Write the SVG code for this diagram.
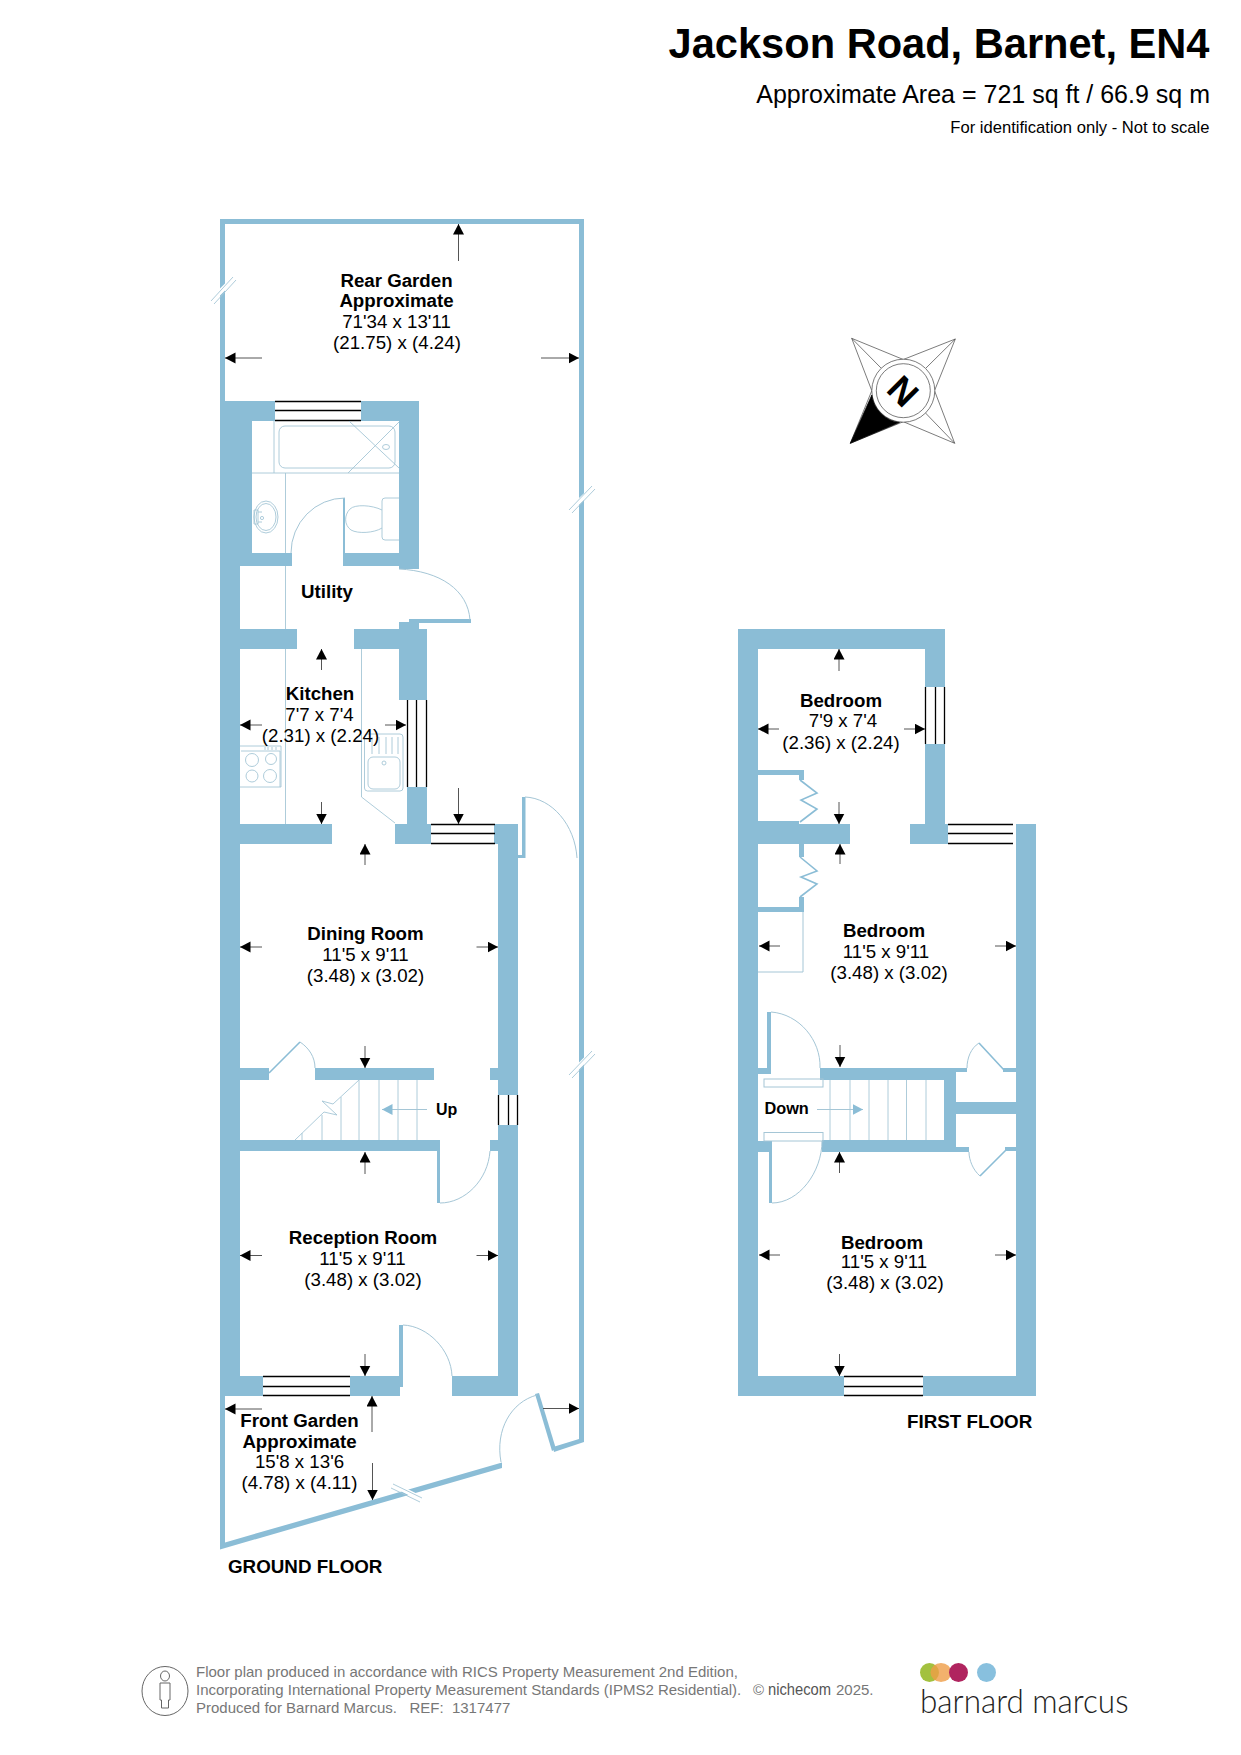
<svg xmlns="http://www.w3.org/2000/svg" width="1241" height="1755" viewBox="0 0 1241 1755">
<style>
text{font-family:"Liberation Sans",Arial,sans-serif;fill:#000}
.b{font-weight:bold;font-size:18.7px;text-anchor:middle}
.r{font-size:18.7px;text-anchor:middle}
.wall{fill:#8bbdd6}
.thin{fill:none;stroke:#a5c6d6;stroke-width:1}
.leaf{fill:none;stroke:#8bbdd6;stroke-width:1.6}
.win{stroke:#000;stroke-width:1.3;fill:none}
.dim{stroke:#555;stroke-width:1;marker-end:url(#ah)}
.fig{fill:none;stroke:#a5c6d6;stroke-width:.9}
.foot{font-size:15px;fill:#777;white-space:pre}
.brk{stroke:#fff;stroke-width:5}
.brk2{stroke:#a5c6d6;stroke-width:.9;fill:none}
</style>
<defs>
<marker id="ah" markerUnits="userSpaceOnUse" markerWidth="11" markerHeight="12" refX="10.5" refY="5.5" orient="auto"><path d="M0,0L10.5,5.5L0,11Z" fill="#000"/></marker>
<marker id="bh" markerUnits="userSpaceOnUse" markerWidth="11" markerHeight="12" refX="10.5" refY="5.5" orient="auto"><path d="M0,0L10.5,5.5L0,11Z" fill="#8bbdd6"/></marker>
</defs>
<rect width="1241" height="1755" fill="#fff"/>

<g id="header">
<text x="1209.5" y="58" font-size="41.6" font-weight="bold" text-anchor="end">Jackson Road, Barnet, EN4</text>
<text x="1210" y="103" font-size="25" text-anchor="end">Approximate Area = 721 sq ft / 66.9 sq m</text>
<text x="1209.5" y="133" font-size="16.6" text-anchor="end">For identification only - Not to scale</text>
</g>

<g id="ground-floor">
<path class="wall" d="M220,219H584V1442L554,1452L553,1447L579,1439V224H225V401H220Z"/>
<path class="wall" d="M220,401H275V421H252V553H292V566H240V1376H263V1396H225V1542.5L502,1462.5V1468L220,1549.5Z"/>
<path class="wall" d="M361,401H419V569H399V421H361Z"/>
<path class="wall" d="M343,498H345V553H399V566H343Z"/>
<path class="wall" d="M399,622H419V629H427V700H399V649H354V629H399Z"/>
<path class="wall" d="M240,629H297V649H240Z"/>
<path class="wall" d="M409,619H471V623H409Z"/>
<path class="wall" d="M407,787H427V824H431V844H395V824H407Z"/>
<path class="wall" d="M240,824H332V844H240Z"/>
<path class="wall" d="M494,824H518V855H522V797H525.5V858H518V1095H498V844H494Z"/>
<path class="wall" d="M498,1125H518V1396H452V1376H498V1151H490V1140H498Z"/>
<path class="wall" d="M490,1068H498V1080H490Z"/>
<path class="wall" d="M240,1068H269V1080H240Z"/>
<path class="wall" d="M315,1068H434V1080H315Z"/>
<path class="wall" d="M240,1140H440V1203H437V1151H240Z"/>
<path class="wall" d="M350,1376H399V1325H403V1387H400V1396H350Z"/>
<path class="wall" d="M535,1394L539,1393L556,1449L552,1451Z"/>
<path class="leaf" d="M269,1073L300,1042"/>
<path class="thin" d="M345,498A54,55 0 0 0 291,553M399,569C440,571 468,590 470,620M525,797C552,798 575,825 577,858M300,1042C309,1048 315,1057 315,1068M490,1151C488,1180 465,1203 440,1203M403,1325C428,1326 451,1350 452,1376M537,1395C511,1402 495,1430 501,1462"/>
<path class="win" d="M275,401.5H361M275,410.5H361M275,420.5H361M407.5,700V787M416.5,700V787M426.5,700V787M431,824.5H495M431,833.5H495M431,843.5H495M498.5,1095V1125M508.5,1095V1125M517.5,1095V1125M263,1376.5H350M263,1386.5H350M263,1395.5H350"/>
<g id="bathroom-fittings">
<path class="fig" d="M274,421V473M252,473H399M285.5,473V553M285.5,566V629M285.5,649V824"/>
<rect class="fig" x="279" y="426" width="116" height="42" rx="6"/>
<path class="fig" d="M349,421L399,468M399,422L348,473"/>
<ellipse class="fig" cx="386" cy="447" rx="3.5" ry="2.5"/>
<ellipse class="fig" cx="266" cy="517" rx="12" ry="16"/>
<ellipse class="fig" cx="266" cy="517" rx="10" ry="13.5"/>
<path class="fig" d="M254,510H258V524H254ZM258,512H262M258,522H262"/>
<circle class="fig" cx="262" cy="518" r="1.6"/>
<path class="fig" d="M382,510C372,505 355,504 350,509C344,515 344,525 351,530C358,534 374,533 382,528"/>
<path class="fig" d="M399,498H385Q382,498 382,501V537Q382,540 385,540H399"/>
</g>
<g id="kitchen-fittings">
<path class="fig" d="M361.5,649V797L395,823"/>
<rect class="fig" x="364.5" y="734" width="38.5" height="57" rx="3"/>
<rect class="fig" x="368" y="757" width="32" height="32" rx="5"/>
<path class="fig" d="M372,737V754M379,737V754M386,737V754M392,737V754M398,737V754"/>
<circle class="fig" cx="384" cy="763" r="2"/>
<path class="fig" d="M240,746H281V787H240M241,751H280V787"/>
<circle class="fig" cx="252" cy="760" r="6.5"/><circle class="fig" cx="271" cy="759" r="5.5"/><circle class="fig" cx="252" cy="776" r="6"/><circle class="fig" cx="270" cy="776" r="6.5"/>
<path class="fig" d="M265,747V750M268,747V750M272,747V750M276,747V750"/>
</g>
<g id="stairs-up">
<path class="fig" d="M295,1140L324,1112L337,1115L322,1101L333,1104L359,1080M302,1133V1140M322,1115V1140M341,1097V1140M359,1080V1140M379,1080V1140M398,1080V1140M417,1080V1140"/>
<line x1="427" y1="1109.5" x2="382" y2="1109.5" stroke="#a5c6d6" stroke-width="1" marker-end="url(#bh)"/>
</g>
<g id="garden-breaks">
<path class="brk" d="M213,299L231,281M571,509L591,490M571,1074L591,1054M396,1486L420,1498"/>
<path class="brk2" d="M211,301L233,277M214,304L236,280M569,510L592,486M572,513L595,489M569,1075L592,1051M572,1078L595,1054M393,1484L422,1498M391,1488L420,1502"/>
</g>
</g>

<g id="ground-dimensions">
<line class="dim" x1="458.5" y1="261" x2="458.5" y2="224"/>
<line class="dim" x1="262" y1="358" x2="225" y2="358"/>
<line class="dim" x1="541" y1="358" x2="579" y2="358"/>
<line class="dim" x1="321.5" y1="670" x2="321.5" y2="649"/>
<line class="dim" x1="262" y1="725" x2="240" y2="725"/>
<line class="dim" x1="385" y1="725" x2="406" y2="725"/>
<line class="dim" x1="321.5" y1="802" x2="321.5" y2="824"/>
<line class="dim" x1="458.5" y1="788" x2="458.5" y2="824"/>
<line class="dim" x1="365" y1="865" x2="365" y2="844"/>
<line class="dim" x1="262" y1="947" x2="240" y2="947"/>
<line class="dim" x1="476.5" y1="947" x2="498" y2="947"/>
<line class="dim" x1="365" y1="1046" x2="365" y2="1068"/>
<line class="dim" x1="365" y1="1174" x2="365" y2="1152"/>
<line class="dim" x1="262" y1="1255.5" x2="240" y2="1255.5"/>
<line class="dim" x1="476.5" y1="1255.5" x2="498" y2="1255.5"/>
<line class="dim" x1="365" y1="1354" x2="365" y2="1376"/>
<line class="dim" x1="262" y1="1409" x2="225" y2="1409"/>
<line class="dim" x1="543" y1="1408.5" x2="579" y2="1408.5"/>
<line class="dim" x1="372" y1="1432" x2="372" y2="1396"/>
<line class="dim" x1="372.5" y1="1463" x2="372.5" y2="1500"/>
</g>

<g id="ground-labels">
<text class="b" x="396.5" y="287">Rear Garden</text>
<text class="b" x="396.5" y="307">Approximate</text>
<text class="r" x="396.5" y="328">71'34 x 13'11</text>
<text class="r" x="397" y="349">(21.75) x (4.24)</text>
<text class="b" x="327" y="598">Utility</text>
<text class="b" x="320" y="699.5">Kitchen</text>
<text class="r" x="319.5" y="720.5">7'7 x 7'4</text>
<text class="r" x="320.5" y="742">(2.31) x (2.24)</text>
<text class="b" x="365.5" y="940">Dining Room</text>
<text class="r" x="365.5" y="961">11'5 x 9'11</text>
<text class="r" x="365.5" y="982">(3.48) x (3.02)</text>
<text x="436" y="1114.5" font-size="16" font-weight="bold">Up</text>
<text class="b" x="363" y="1244">Reception Room</text>
<text class="r" x="362.5" y="1265">11'5 x 9'11</text>
<text class="r" x="363" y="1286">(3.48) x (3.02)</text>
<text class="b" x="299.5" y="1427">Front Garden</text>
<text class="b" x="299.5" y="1448">Approximate</text>
<text class="r" x="299.5" y="1468">15'8 x 13'6</text>
<text class="r" x="299.5" y="1489">(4.78) x (4.11)</text>
<text x="228" y="1573" font-size="18.8" font-weight="bold">GROUND FLOOR</text>
</g>

<g transform="translate(1,0)">
<g id="first-floor">
<path class="wall" d="M737,629H944V687H924V649H757V770H803V780H798V775H757V821H798V824H849V844H803V857H798V844H757V907H798V897H803V912H757V1068H767V1074H757V1141H770V1152H757V1376H843V1396H737Z"/>
<path class="wall" d="M924,744H944V824H947V844H909V824H924Z"/>
<path class="wall" d="M1015,824H1035V1396H922V1376H1015V1151H1004V1147H1015V1114H955V1147H968V1152H821V1140H943V1080H819V1068H966V1072H955V1102H1015V1072H1002V1068H1015Z"/>
<path class="wall" d="M766,1012H770V1074H766ZM768,1141H771V1203H768Z"/>
<path class="leaf" d="M799,780L816,793L800,800L816,809L799,822M799,857L816,871L800,877L816,884L799,897M978,1043L1003,1070M979,1176L1005,1150"/>
<path class="thin" d="M757,972H802V912M770,1012C798,1014 820,1040 819,1068M771,1203C798,1203 821,1172 821,1141M978,1043C970,1048 966,1058 966,1068M979,1176C972,1170 968,1160 968,1152"/>
<rect class="thin" x="763" y="1079" width="59" height="8"/>
<rect class="thin" x="763" y="1132.5" width="59" height="8.5"/>
<path class="fig" d="M829,1080V1140M849,1080V1140M868,1080V1140M887,1080V1140M905.5,1080V1140M925,1080V1140"/>
<line x1="816" y1="1109.5" x2="862" y2="1109.5" stroke="#a5c6d6" stroke-width="1" marker-end="url(#bh)"/>
<path class="win" d="M924.5,687V744M934.5,687V744M943.5,687V744M947,824.5H1012M947,833.5H1012M947,843.5H1012M843,1376.5H922M843,1386.5H922M843,1395.5H922"/>
</g>

<g id="first-dimensions">
<line class="dim" x1="838" y1="671" x2="838" y2="649"/>
<line class="dim" x1="778" y1="729" x2="757" y2="729"/>
<line class="dim" x1="903" y1="729" x2="924" y2="729"/>
<line class="dim" x1="838" y1="802" x2="838" y2="824"/>
<line class="dim" x1="839" y1="864" x2="839" y2="844"/>
<line class="dim" x1="779" y1="946" x2="758" y2="946"/>
<line class="dim" x1="994" y1="946" x2="1015" y2="946"/>
<line class="dim" x1="839" y1="1045" x2="839" y2="1067"/>
<line class="dim" x1="838.5" y1="1173" x2="838.5" y2="1152"/>
<line class="dim" x1="779" y1="1255" x2="758" y2="1255"/>
<line class="dim" x1="994" y1="1255" x2="1015" y2="1255"/>
<line class="dim" x1="838.5" y1="1354" x2="838.5" y2="1376"/>
</g>

<g id="first-labels">
<text class="b" x="840" y="707">Bedroom</text>
<text class="r" x="842" y="727">7'9 x 7'4</text>
<text class="r" x="840" y="749">(2.36) x (2.24)</text>
<text class="b" x="883" y="937">Bedroom</text>
<text class="r" x="885" y="958">11'5 x 9'11</text>
<text class="r" x="888" y="978.5">(3.48) x (3.02)</text>
<text x="763.5" y="1114" font-size="16.3" font-weight="bold">Down</text>
<text class="b" x="881" y="1248.5">Bedroom</text>
<text class="r" x="883" y="1268">11'5 x 9'11</text>
<text class="r" x="884" y="1289">(3.48) x (3.02)</text>
<text x="906" y="1428" font-size="18.8" font-weight="bold">FIRST FLOOR</text>
</g>
</g>

<g id="compass" fill="none" stroke="#444" stroke-width=".7" transform="translate(1,0)">
<path d="M850.7,338.3L902.3,359.5L954.3,339L933.5,390.7L953.7,443.3L902.3,421.7L849.3,443.3L870.8,390.7Z"/>
<path d="M850.7,338.3L880,368M954.3,339L925,368M953.7,443.3L924.5,413M849.3,443.3L880,413"/>
<circle cx="902.3" cy="390.7" r="31.5" fill="#fff"/>
<circle cx="902.3" cy="390.7" r="27"/>
<path d="M849.3,443.3L870.8,395A32,32 0 0 0 898.5,422.5Z" fill="#000" stroke="#000"/>
<text x="0" y="0" transform="translate(902.3,390.7) rotate(45)" font-size="36" font-weight="bold" text-anchor="middle" dy="13" stroke="none">N</text>
</g>

<g id="footer">
<ellipse cx="165" cy="1691" rx="23" ry="24.5" fill="none" stroke="#666" stroke-width="1"/>
<ellipse cx="165" cy="1676" rx="4.5" ry="5" fill="none" stroke="#666" stroke-width="1"/>
<path d="M160,1683H170V1700H168.5V1708H161.5V1700H160Z" fill="none" stroke="#666" stroke-width="1"/>
<text class="foot" x="196" y="1677">Floor plan produced in accordance with RICS Property Measurement 2nd Edition,</text>
<text class="foot" x="196" y="1695">Incorporating International Property Measurement Standards (IPMS2 Residential).</text>
<text class="foot" x="196" y="1713">Produced for Barnard Marcus.   REF:  1317477</text>
<text class="foot" x="753" y="1695">©</text>
<text x="768" y="1695" font-size="16" style="fill:#555" textLength="63" lengthAdjust="spacingAndGlyphs">nichecom</text>
<text class="foot" x="836" y="1695">2025.</text>
</g>

<g id="logo">
<ellipse cx="929.5" cy="1672.5" rx="9.5" ry="9.5" fill="#a3c13f"/>
<ellipse cx="941" cy="1672.5" rx="10.5" ry="9.5" fill="#ef9d47" opacity=".8"/>
<ellipse cx="958.5" cy="1672.5" rx="9.5" ry="9.5" fill="#b0245f"/>
<ellipse cx="986.5" cy="1672.5" rx="9.5" ry="9.5" fill="#88c0de"/>
<text x="920" y="1713" font-size="33" style="font-family:Lato,'Noto Sans',sans-serif;font-weight:300;fill:#222" textLength="208.5" lengthAdjust="spacingAndGlyphs">barnard marcus</text>
</g>
</svg>
